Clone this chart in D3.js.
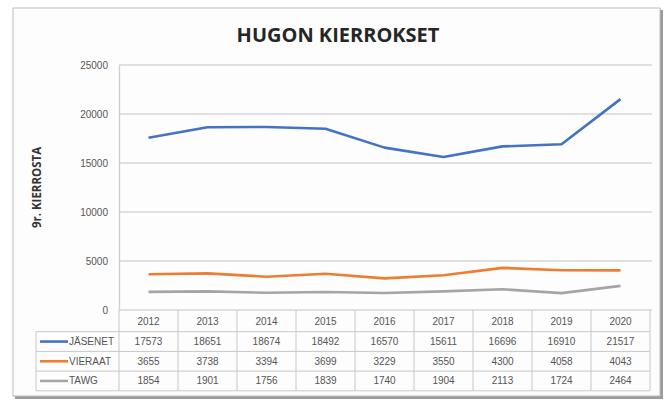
<!DOCTYPE html>
<html lang="fi">
<head>
  <meta charset="UTF-8">
  <script src="https://d3js.org/d3.v7.min.js"></script>
  <title>Hugon kierrokset</title>
  <style>
    body { margin: 0; background: #fff; }
    text { font-family: "Liberation Sans Narrow", "Liberation Sans", sans-serif; }
  </style>
</head>
<body>
<script>
  // data
  const years = ["2012","2013","2014","2015","2016","2017","2018","2019","2020"]
  const jasenet = [17573, 18651, 18674, 18492, 16570, 15611, 16696, 16910, 21517]
  const vieraat = [3655, 3738, 3394, 3699, 3229, 3550, 4300, 4058, 4043]
  const tawg = [1854, 1901, 1756, 1839, 1740, 1904, 2113, 1724, 2464]
  const seriesNames = ["JÄSENET", "VIERAAT", "TAWG"]
  const seriesColors = ["#4472C4", "#ED7D31", "#A5A5A5"]
  const yTicks = [0, 5000, 10000, 15000, 20000, 25000]

  const series = [jasenet, vieraat, tawg]

  const width = 666, height = 403
  const plot = { left: 119, right: 650, top: 65, bottom: 310 }
  const rowH = 19.7

  const svg = d3.select("body").append("svg")
    .attr("width", width).attr("height", height)

  // frame with shadow
  svg.append("rect").attr("x", 15).attr("y", 10).attr("width", 648).attr("height", 389)
    .attr("fill", "#9a9a9a")
  svg.append("rect").attr("x", 13).attr("y", 8).attr("width", 647).attr("height", 388)
    .attr("fill", "#fdfdfd").attr("stroke", "#bdbdbd").attr("stroke-width", 1)

  // title
  svg.append("text").attr("x", 338).attr("y", 42).attr("text-anchor", "middle")
    .style("font-family", "'Open Sans', 'DejaVu Sans', sans-serif")
    .style("font-weight", "bold").style("font-size", "20px").attr("fill", "#262626")
    .text("HUGON KIERROKSET")

  const x = d3.scaleBand().domain(years).range([plot.left, plot.right])
  const y = d3.scaleLinear().domain([0, 25000]).range([plot.bottom, plot.top])

  // gridlines
  svg.append("g").selectAll("line").data(yTicks).join("line")
    .attr("x1", plot.left).attr("x2", plot.right + 2)
    .attr("y1", d => y(d)).attr("y2", d => y(d))
    .attr("stroke", "#d6d6d6").attr("stroke-width", 1.3)

  // y axis
  const yAxis = d3.axisLeft(y).tickValues(yTicks).tickSize(0).tickPadding(11)
    .tickFormat(d3.format("d"))
  const gy = svg.append("g").attr("transform", `translate(${plot.left},0)`).call(yAxis)
  gy.select(".domain").attr("stroke", "#cfcfcf").attr("stroke-width", 1.3)
  gy.selectAll("text").style("font-size", "10px").attr("fill", "#555")

  svg.append("text")
    .attr("transform", `translate(41,${(plot.top + plot.bottom) / 2}) rotate(-90)`)
    .attr("text-anchor", "middle")
    .style("font-family", "'Open Sans', 'DejaVu Sans', sans-serif")
    .style("font-weight", "bold").style("font-size", "11.5px").attr("fill", "#333")
    .text("9r. KIERROSTA")

  // lines
  const line = d3.line()
    .x((d, i) => x(years[i]) + x.bandwidth() / 2)
    .y(d => y(d))
  svg.append("g").selectAll("path").data(series).join("path")
    .attr("d", line)
    .attr("fill", "none")
    .attr("stroke", (d, i) => seriesColors[i])
    .attr("stroke-width", 2.6)
    .attr("stroke-linejoin", "round")

  // data table
  const tableTop = plot.bottom
  const tableLeft = 36
  const tb = svg.append("g")
  const gridColor = "#c8c8c8"

  // horizontal rules
  for (let r = 1; r <= 4; r++) {
    const yy = tableTop + 2 + r * rowH
    tb.append("line")
      .attr("x1", tableLeft).attr("x2", plot.right)
      .attr("y1", yy).attr("y2", yy)
      .attr("stroke", gridColor).attr("stroke-width", 1)
  }
  // vertical rules
  const bottomY = tableTop + 2 + 4 * rowH
  years.forEach(yr => {
    tb.append("line")
      .attr("x1", x(yr)).attr("x2", x(yr))
      .attr("y1", tableTop).attr("y2", bottomY)
      .attr("stroke", gridColor)
  })
  tb.append("line").attr("x1", plot.right).attr("x2", plot.right)
    .attr("y1", tableTop).attr("y2", bottomY).attr("stroke", gridColor)
  tb.append("line").attr("x1", tableLeft).attr("x2", tableLeft)
    .attr("y1", tableTop + 2 + rowH).attr("y2", bottomY).attr("stroke", gridColor)

  // header years
  tb.selectAll("text.yr").data(years).join("text").attr("class", "yr")
    .attr("x", d => x(d) + x.bandwidth() / 2)
    .attr("y", tableTop + 2 + rowH / 2 + 3.5)
    .attr("text-anchor", "middle").style("font-size", "10px").attr("fill", "#555")
    .text(d => d)

  // rows
  series.forEach((vals, s) => {
    const cy = tableTop + 2 + (s + 1) * rowH + rowH / 2
    tb.append("line").attr("x1", tableLeft + 4).attr("x2", tableLeft + 32)
      .attr("y1", cy).attr("y2", cy)
      .attr("stroke", seriesColors[s]).attr("stroke-width", 2.6)
    tb.append("text").attr("x", tableLeft + 33).attr("y", cy + 3.5)
      .style("font-size", "10px").attr("fill", "#555").text(seriesNames[s])
    tb.selectAll(null).data(vals).join("text")
      .attr("x", (d, i) => x(years[i]) + x.bandwidth() / 2)
      .attr("y", cy + 3.5)
      .attr("text-anchor", "middle").style("font-size", "10px").attr("fill", "#555")
      .text(d => d)
  })
</script>
</body>
</html>
